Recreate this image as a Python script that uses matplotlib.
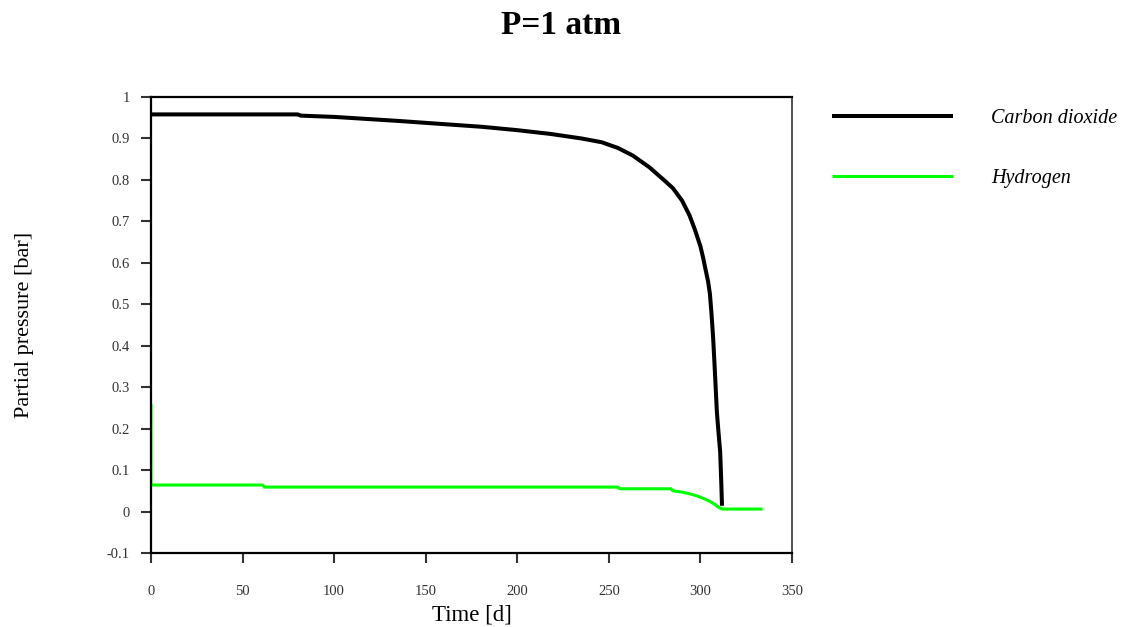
import numpy as np
import matplotlib.pyplot as plt

plt.rcParams["font.family"] = ["Liberation Serif", "DejaVu Serif"]

# --- data ---
co2_t = [0, 80, 82, 100, 136, 152, 181, 200, 218, 235, 246, 255, 263, 272, 280,
         285, 290, 294, 297, 300, 301.5, 303, 304.2, 305.2, 306.1, 307, 308,
         309, 310, 310.8, 311.4, 311.8]
co2_p = [0.958, 0.958, 0.955, 0.952, 0.942, 0.937, 0.928, 0.920, 0.911, 0.900,
         0.891, 0.877, 0.859, 0.831, 0.800, 0.780, 0.750, 0.715, 0.680, 0.640,
         0.612, 0.580, 0.555, 0.525, 0.475, 0.416, 0.33, 0.24, 0.185, 0.144,
         0.07, 0.014]

h2_t = [0, 0, 61, 62, 255, 256, 284, 285, 290, 294, 298, 302, 305, 308, 310,
        312, 334]
h2_p = [0.26, 0.064, 0.064, 0.059, 0.059, 0.055, 0.055, 0.050, 0.047, 0.043,
        0.038, 0.031, 0.025, 0.017, 0.010, 0.006, 0.006]

x_ticks = [0, 50, 100, 150, 200, 250, 300, 350]
y_ticks = [-0.1, 0, 0.1, 0.2, 0.3, 0.4, 0.5, 0.6, 0.7, 0.8, 0.9, 1]
y_tick_labels = ["-0.1", "0", "0.1", "0.2", "0.3", "0.4", "0.5", "0.6", "0.7",
                 "0.8", "0.9", "1"]

fig = plt.figure(figsize=(11.24, 6.27), dpi=100)
ax = fig.add_axes([0.1343, 0.118, 0.5703, 0.7273])

ax.plot(co2_t, co2_p, color="black", lw=2.9, label="Carbon dioxide",
        solid_capstyle="butt", solid_joinstyle="round")
ax.plot(h2_t, h2_p, color="#00ff00", lw=2.2, label="Hydrogen",
        solid_capstyle="butt")

ax.set_xlim(0, 350)
ax.set_ylim(-0.1, 1)
ax.set_xticks(x_ticks)
ax.set_yticks(y_ticks)
ax.set_yticklabels(y_tick_labels)
ax.tick_params(axis="both", direction="out", length=7, width=1.5,
               labelsize=10.5, colors="#333333")
ax.tick_params(axis="x", pad=16)
ax.tick_params(axis="y", pad=8)

for side in ["left", "bottom", "top"]:
    ax.spines[side].set_linewidth(1.6)
    ax.spines[side].set_color("black")
ax.spines["right"].set_linewidth(1.2)
ax.spines["right"].set_color("#333333")

ax.set_xlabel("Time [d]", fontsize=16.5, va="center")
ax.xaxis.set_label_coords(0.5, -0.135)
ax.set_ylabel("Partial pressure [bar]", fontsize=16, va="center")
ax.yaxis.set_label_coords(-0.198, 0.5)

fig.text(0.499, 0.96, "P=1 atm", fontsize=24, fontweight="bold",
         ha="center", va="center")

fig.legend(loc="upper left", bbox_to_anchor=(0.740, 0.827), frameon=False,
           prop={"style": "italic", "size": 14.5}, handlelength=6.0,
           handletextpad=1.9, labelspacing=2.05, borderpad=0, borderaxespad=0)

plt.savefig("out.png", dpi=100)
